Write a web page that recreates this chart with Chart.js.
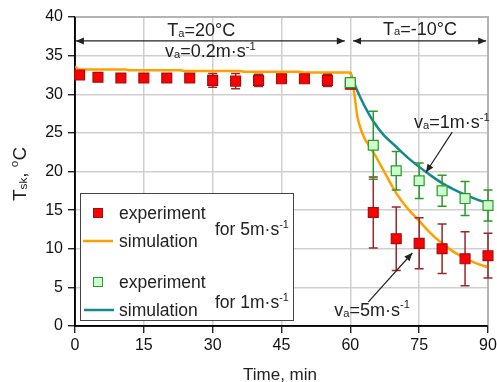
<!DOCTYPE html>
<html><head><meta charset="utf-8">
<script src="https://cdn.jsdelivr.net/npm/chart.js@4.4.1/dist/chart.umd.min.js"></script>
<style>html,body{margin:0;padding:0;background:#fff;}</style>
</head><body>
<canvas id="c" width="497" height="382"></canvas>
<script>
// ---- data ----
const timeExp5 = [1,5,10,15,20,25,30,35,40,45,50,55,60,65,70,75,80,85,90];
const exp5 =     [32.5,32.2,32.1,32.1,32.1,32.1,31.8,31.7,31.8,32.0,32.0,31.8,31.3,14.7,11.3,10.7,10.0,8.7,9.1];
const err5 =     [0.4,0.4,0.5,0.5,0.5,0.5,0.9,1.0,0.8,0.4,0.4,0.8,0.5,4.6,4.1,3.3,3.2,3.5,2.9];
const timeExp1 = [60,65,70,75,80,85,90];
const exp1 =     [31.5,23.4,20.1,18.8,17.5,16.5,15.6];
const err1 =     [0.5,4.4,2.5,2.3,2.0,2.2,2.0];
const timeSim5 = [0,1,11,12,23,24,36,37,49,50,60,60.5,61,61.5,62,63,64,65,67,70,72.5,75,77.5,80,82.5,85,87.5,90];
const sim5 =     [33.6,33.2,33.2,33.1,33.1,33.0,33.0,32.9,32.9,32.8,32.8,31.5,29.5,27.2,26.0,24.4,23.4,22.5,20.4,17.2,15.2,13.6,12.0,10.7,9.6,8.8,8.1,7.6];
const timeSim1 = [60,61,62,63,64,65,67,70,72.5,75,77.5,80,82.5,85,87.5,90];
const sim1 =     [32.8,31.2,29.8,28.6,27.5,26.5,24.9,23.2,21.8,20.6,19.5,18.5,17.7,17.0,16.4,15.9];
const xTicks = [0,15,30,45,60,75,90];
const yTicks = [0,5,10,15,20,25,30,35,40];

const FONT = '"Liberation Sans", Arial, Helvetica, sans-serif';
const RED = '#ff0000', RED_B = '#a01010', RED_E = '#9a2828';
const GRN = '#ccffcc', GRN_B = '#2a9a2a', GRN_E = '#2a9a2a';
const ORANGE = '#ffa000', TEAL = '#138a8c';

const pts = (xs, ys) => xs.map((x, i) => ({x, y: ys[i]}));

function rich(ctx, segs, x, y, size, align, color) {
  const parts = segs.map(s => {
    const fs = s[1] ? size * 0.62 : size;
    ctx.font = fs + 'px ' + FONT;
    return {t: s[0], k: s[1], fs, w: ctx.measureText(s[0]).width};
  });
  const total = parts.reduce((a, p) => a + p.w, 0);
  let cx = align === 'center' ? x - total / 2 : align === 'right' ? x - total : x;
  ctx.fillStyle = color || '#222';
  ctx.textBaseline = 'alphabetic';
  ctx.textAlign = 'left';
  for (const p of parts) {
    ctx.font = p.fs + 'px ' + FONT;
    const dy = p.k === 'sub' ? size * 0.04 : p.k === 'sup' ? -size * 0.42 : 0;
    ctx.fillText(p.t, cx, y + dy);
    cx += p.w;
  }
}
function head(ctx, x1, y1, x2, y2, len, half) {
  const a = Math.atan2(y2 - y1, x2 - x1);
  ctx.beginPath();
  ctx.moveTo(x2, y2);
  ctx.lineTo(x2 - len * Math.cos(a) + half * Math.sin(a), y2 - len * Math.sin(a) - half * Math.cos(a));
  ctx.lineTo(x2 - len * Math.cos(a) - half * Math.sin(a), y2 - len * Math.sin(a) + half * Math.cos(a));
  ctx.closePath();
  ctx.fill();
}
function arrow(ctx, x1, y1, x2, y2, both) {
  ctx.strokeStyle = '#222'; ctx.fillStyle = '#222'; ctx.lineWidth = 1.2;
  ctx.beginPath(); ctx.moveTo(x1, y1); ctx.lineTo(x2, y2); ctx.stroke();
  head(ctx, x1, y1, x2, y2, 8, 3.5);
  if (both) head(ctx, x2, y2, x1, y1, 8, 3.5);
}

function drawErr(ctx, xs, ys, es, color, sx, sy) {
  ctx.save();
  ctx.strokeStyle = color; ctx.lineWidth = 1.5;
  xs.forEach((t, i) => {
    const px = sx.getPixelForValue(t);
    const top = sy.getPixelForValue(ys[i] + es[i]);
    const bot = sy.getPixelForValue(ys[i] - es[i]);
    ctx.beginPath();
    ctx.moveTo(px, top); ctx.lineTo(px, bot);
    ctx.moveTo(px - 4.5, top); ctx.lineTo(px + 4.5, top);
    ctx.moveTo(px - 4.5, bot); ctx.lineTo(px + 4.5, bot);
    ctx.stroke();
  });
  ctx.restore();
}

const extras = {
  id: 'extras',
  beforeDatasetsDraw(chart) {
    const ctx = chart.ctx, ca = chart.chartArea;
    ctx.save();
    ctx.strokeStyle = '#b4b4b4'; ctx.lineWidth = 2;
    ctx.beginPath(); ctx.moveTo(ca.left, ca.top); ctx.lineTo(ca.right, ca.top); ctx.lineTo(ca.right, ca.bottom); ctx.stroke();
    ctx.strokeStyle = '#000'; ctx.lineWidth = 1.5;
    ctx.beginPath(); ctx.moveTo(ca.left, ca.top); ctx.lineTo(ca.left, ca.bottom); ctx.lineTo(ca.right, ca.bottom); ctx.stroke();
    ctx.restore();
  },
  afterDatasetDraw(chart, args) {
    if (args.index !== 2) return;
    const sx = chart.scales.x, sy = chart.scales.y, ctx = chart.ctx;
    drawErr(ctx, timeExp5, exp5, err5, RED_E, sx, sy);
    drawErr(ctx, timeExp1, exp1, err1, GRN_E, sx, sy);
  },
  afterDraw(chart) {
    const ctx = chart.ctx, sx = chart.scales.x, sy = chart.scales.y;
    ctx.save();
    const X = v => sx.getPixelForValue(v), Y = v => sy.getPixelForValue(v);
    arrow(ctx, X(0.2), Y(36.9), X(58.8), Y(36.9), true);
    arrow(ctx, X(60.6), Y(36.9), X(89.6), Y(36.9), true);
    rich(ctx, [['T', ''], ['a', 'sub'], ['=20°C', '']], X(27.5), Y(37.5), 18, 'center');
    rich(ctx, [['v', ''], ['a', 'sub'], ['=0.2m·s', ''], ['-1', 'sup']], X(29.5), Y(34.8), 18, 'center');
    rich(ctx, [['T', ''], ['a', 'sub'], ['=-10°C', '']], X(75.2), Y(37.7), 18, 'center');
    rich(ctx, [['v', ''], ['a', 'sub'], ['=1m·s', ''], ['-1', 'sup']], X(73.9), Y(25.6), 18, 'left');
    arrow(ctx, X(82.2), Y(25.1), X(76.5), Y(19.9), false);
    rich(ctx, [['v', ''], ['a', 'sub'], ['=5m·s', ''], ['-1', 'sup']], X(56.5), Y(1.3), 18, 'left');
    arrow(ctx, X(63.9), Y(3.1), X(73.5), Y(9.45), false);

    rich(ctx, [['Time, min', '']], 280, 380, 17, 'center');
    ctx.save();
    ctx.translate(26, 174); ctx.rotate(-Math.PI / 2);
    rich(ctx, [['T', ''], ['sk', 'sub'], [', ', ''], ['o', 'sup'], ['C', '']], 0, 0, 19, 'center');
    ctx.restore();

    const L = 80, T = 193, R = 293, B = 320;
    ctx.fillStyle = '#fff'; ctx.fillRect(L, T, R - L, B - T);
    ctx.strokeStyle = '#444'; ctx.lineWidth = 1; ctx.strokeRect(L + 0.5, T + 0.5, R - L, B - T);
    ctx.fillStyle = RED; ctx.strokeStyle = RED_B; ctx.lineWidth = 1;
    ctx.fillRect(93.5, 208.5, 9, 9); ctx.strokeRect(93.5, 208.5, 9, 9);
    ctx.strokeStyle = ORANGE; ctx.lineWidth = 2.5;
    ctx.beginPath(); ctx.moveTo(83, 241); ctx.lineTo(113, 241); ctx.stroke();
    ctx.fillStyle = GRN; ctx.strokeStyle = GRN_B; ctx.lineWidth = 1;
    ctx.fillRect(93.5, 277.5, 9, 9); ctx.strokeRect(93.5, 277.5, 9, 9);
    ctx.strokeStyle = TEAL; ctx.lineWidth = 2.5;
    ctx.beginPath(); ctx.moveTo(84, 310); ctx.lineTo(114, 310); ctx.stroke();
    rich(ctx, [['experiment', '']], 119, 219, 17.5, 'left');
    rich(ctx, [['simulation', '']], 119, 247, 17.5, 'left');
    rich(ctx, [['for 5m·s', ''], ['-1', 'sup']], 215, 235, 17.5, 'left');
    rich(ctx, [['experiment', '']], 119, 288, 17.5, 'left');
    rich(ctx, [['simulation', '']], 119, 316, 17.5, 'left');
    rich(ctx, [['for 1m·s', ''], ['-1', 'sup']], 215, 308, 17.5, 'left');
    ctx.restore();
  }
};

new Chart(document.getElementById('c'), {
  type: 'line',
  data: {
    datasets: [
      {label: 'experiment 1', data: pts(timeExp1, exp1), showLine: false, pointStyle: 'rect', pointRadius: 7,
       backgroundColor: GRN, borderColor: GRN_B, pointBorderWidth: 1.2, clip: false},
      {label: 'experiment 5', data: pts(timeExp5, exp5), showLine: false, pointStyle: 'rect', pointRadius: 7,
       backgroundColor: RED, borderColor: RED_B, pointBorderWidth: 1.2, clip: false},
      {label: 'simulation 5', data: pts(timeSim5, sim5), borderColor: ORANGE, borderWidth: 2.5, pointRadius: 0,
       cubicInterpolationMode: 'monotone', fill: false},
      {label: 'simulation 1', data: pts(timeSim1, sim1), borderColor: TEAL, borderWidth: 2.5, pointRadius: 0,
       cubicInterpolationMode: 'monotone', fill: false}
    ]
  },
  options: {
    responsive: false, animation: false, devicePixelRatio: 1,
    layout: {padding: {left: 0, right: 9, top: 17, bottom: 0}},
    plugins: {legend: {display: false}, tooltip: {enabled: false}},
    scales: {
      x: {
        type: 'linear', min: 0, max: 90,
        afterBuildTicks: s => { s.ticks = xTicks.map(v => ({value: v})); },
        afterFit: s => { s.height = 56; s.paddingRight = 0; s.paddingLeft = 0; },
        grid: {color: '#cfcfcf', lineWidth: 1.5, tickColor: '#000', tickLength: 7, tickWidth: 1.2},
        border: {color: '#000', width: 1.5},
        ticks: {color: '#111', font: {family: FONT, size: 16}, padding: 3, maxRotation: 0}
      },
      y: {
        type: 'linear', min: 0, max: 40,
        afterBuildTicks: s => { s.ticks = yTicks.map(v => ({value: v})); },
        afterFit: s => { s.width = 75; s.paddingTop = 0; s.paddingBottom = 0; },
        grid: {color: '#cfcfcf', lineWidth: 1.5, tickColor: '#000', tickLength: 7, tickWidth: 1.2},
        border: {color: '#000', width: 1.5},
        ticks: {color: '#111', font: {family: FONT, size: 16}, padding: 5}
      }
    }
  },
  plugins: [extras]
});
</script>
</body></html>
